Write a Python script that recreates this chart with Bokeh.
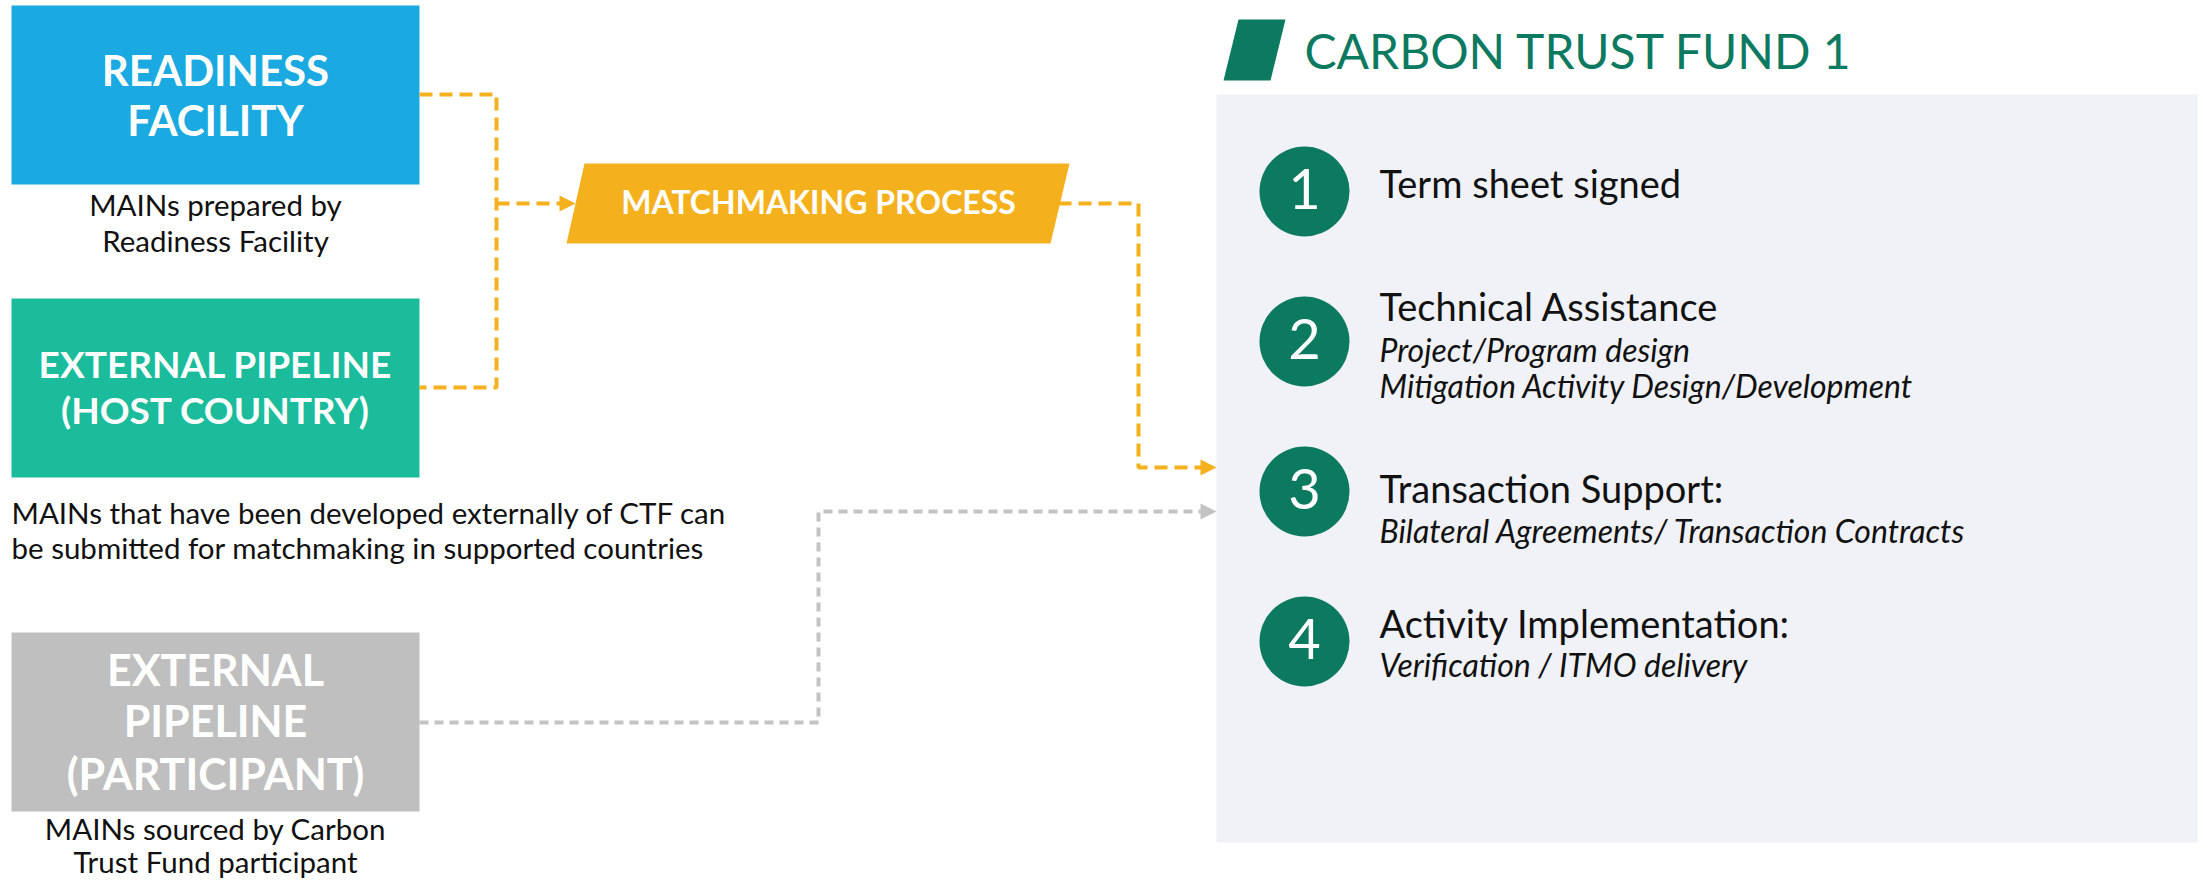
from bokeh.plotting import figure
from bokeh.models import Range1d
from bokeh.core.properties import value
from bokeh.embed import file_html
from bokeh.resources import INLINE

# ---------------- content ----------------
source_labels = [["READINESS", "FACILITY"],
                 ["EXTERNAL PIPELINE", "(HOST COUNTRY)"],
                 ["EXTERNAL", "PIPELINE", "(PARTICIPANT)"]]
source_colors = ["#1AA9E0", "#1ABC9C", "#BFBFBF"]
source_captions = [["MAINs prepared by", "Readiness Facility"],
                   ["MAINs that have been developed externally of CTF can",
                    "be submitted for matchmaking in supported countries"],
                   ["MAINs sourced by Carbon", "Trust Fund participant"]]
process_label = "MATCHMAKING PROCESS"
fund_title = "CARBON TRUST FUND 1"
step_numbers = ["1", "2", "3", "4"]
step_titles = ["Term sheet signed", "Technical Assistance",
               "Transaction Support:", "Activity Implementation:"]
step_details = [[],
                ["Project/Program design", "Mitigation Activity Design/Development"],
                ["Bilateral Agreements/ Transaction Contracts"],
                ["Verification / ITMO delivery"]]

# ---------------- layout (page pixels) ----------------
box_left, box_right = 11, 419
box_tops = [5, 298, 632]
box_bottoms = [184, 477, 811]
label_ys = [[69, 119], [363, 409], [669, 720, 773]]
label_sizes = ["42px", "37px", "43px"]
caption_ys = [[204, 240], [512, 547], [828, 861]]

ORANGE = "#F5B11D"
GREY = "#C3C3C3"
GREEN = "#0C7A61"
PANEL = "#F0F2F7"
FONT = value("Lato")
INK = "#111111"

p = figure(width=2203, height=881, output_backend="svg", toolbar_location=None,
           x_range=Range1d(0, 2203), y_range=Range1d(881, 0),
           min_border=0, outline_line_color=None, background_fill_color="white",
           border_fill_color="white")
p.axis.visible = False
p.grid.visible = False

# right panel
p.quad(left=[1216], right=[2197], top=[94], bottom=[842], fill_color=PANEL, line_color=None)

# source boxes
p.quad(left=[box_left] * 3, right=[box_right] * 3, top=box_tops, bottom=box_bottoms,
       fill_color=source_colors, line_color=None)
cx = (box_left + box_right) / 2
for lines, ys, fs in zip(source_labels, label_ys, label_sizes):
    p.text(x=[cx] * len(lines), y=ys, text=lines, text_font=FONT, text_font_style="bold",
           text_font_size=fs, text_color="white", text_align="center", text_baseline="middle")

# captions
p.text(x=[cx] * 2, y=caption_ys[0], text=source_captions[0], text_font=FONT,
       text_font_size="29.5px", text_color=INK, text_align="center", text_baseline="middle")
p.text(x=[11] * 2, y=caption_ys[1], text=source_captions[1], text_font=FONT,
       text_font_size="29.5px", text_color=INK, text_align="left", text_baseline="middle")
p.text(x=[cx] * 2, y=caption_ys[2], text=source_captions[2], text_font=FONT,
       text_font_size="29.5px", text_color=INK, text_align="center", text_baseline="middle")

# matchmaking parallelogram
p.patch(x=[566, 584, 1069, 1050], y=[243, 163, 163, 243], fill_color=ORANGE, line_color=None)
p.text(x=[818], y=[201], text=[process_label], text_font=FONT, text_font_style="bold",
       text_font_size="32px", text_color="white", text_align="center", text_baseline="middle")

# orange connectors
p.multi_line(xs=[[419, 496, 496, 419], [496, 561], [1058, 1138, 1138, 1202]],
             ys=[[94, 94, 387, 387], [203, 203], [203, 203, 467, 467]],
             line_color=ORANGE, line_width=4, line_dash="13 7")
p.patches(xs=[[559, 575, 559], [1200, 1216, 1200]], ys=[[195, 203, 211], [459, 467, 475]],
          fill_color=ORANGE, line_color=None)

# grey connector
p.multi_line(xs=[[419, 818, 818, 1202]], ys=[[722, 722, 511, 511]],
             line_color=GREY, line_width=4, line_dash="9 6")
p.patch(x=[1200, 1216, 1200], y=[503, 511, 519], fill_color=GREY, line_color=None)

# title
p.patch(x=[1223, 1238, 1285, 1270], y=[80, 19, 19, 80], fill_color=GREEN, line_color=None)
p.text(x=[1304], y=[50], text=[fund_title], text_font=FONT, text_font_size="48px",
       text_color=GREEN, text_align="left", text_baseline="middle")

# steps
circle_ys = [191, 341, 491, 641]
number_ys = [188, 338, 488, 638]
title_ys = [182, 305, 487, 622]
detail_ys = [[], [349, 385], [530], [664]]
p.circle(x=[1304] * 4, y=circle_ys, radius=45, fill_color=GREEN, line_color=None)
p.text(x=[1304] * 4, y=number_ys, text=step_numbers, text_font=FONT, text_font_size="56px",
       text_color="white", text_align="center", text_baseline="middle")
p.text(x=[1379] * 4, y=title_ys, text=step_titles, text_font=FONT, text_font_size="38px",
       text_color=INK, text_align="left", text_baseline="middle")
for det, ys in zip(step_details, detail_ys):
    if det:
        p.text(x=[1379] * len(det), y=ys, text=det, text_font=FONT, text_font_style="italic",
               text_font_size="32px", text_color=INK, text_align="left",
               text_baseline="middle")

open("out.html", "w").write(file_html(p, INLINE))
